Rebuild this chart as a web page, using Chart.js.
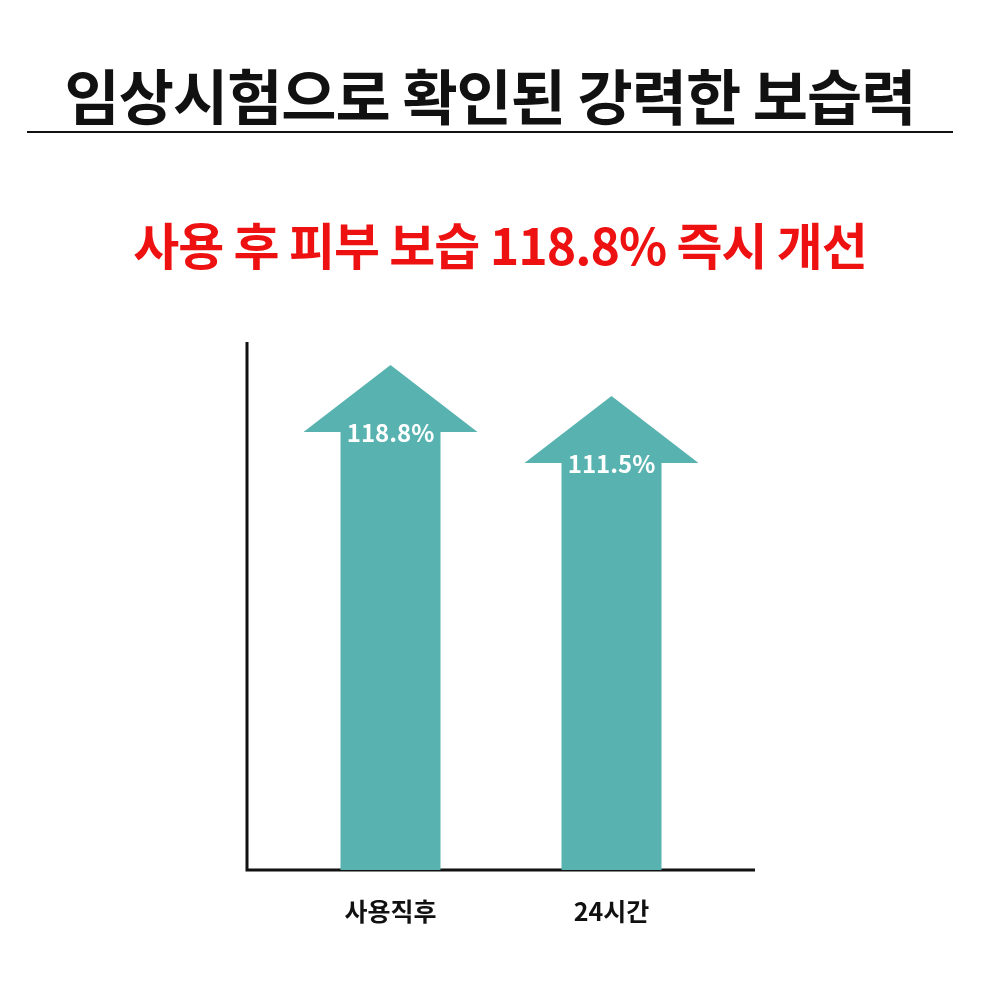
<!DOCTYPE html>
<html><head><meta charset="utf-8">
<script src="https://cdn.jsdelivr.net/npm/chart.js@4/dist/chart.umd.min.js"></script>
<style>
body{margin:0;background:#fff;}
#wrap{position:relative;width:1000px;height:1000px;font-family:"Noto Sans CJK KR",sans-serif;}
#t{position:absolute;left:0;width:980px;top:54px;line-height:80px;text-align:center;font-size:60px;font-weight:700;color:#111;letter-spacing:-1px}
#line{position:absolute;left:27px;width:926px;top:131px;height:2px;background:#111}
#s{position:absolute;left:0;width:1000px;top:208px;line-height:70px;text-align:center;font-size:50px;font-weight:700;color:#ee1111;letter-spacing:-1px}
canvas{position:absolute;left:0;top:0}
</style></head>
<body><div id="wrap">
<canvas id="c" width="1000" height="1000"></canvas>
<div id="t">임상시험으로 확인된 강력한 보습력</div>
<div id="line"></div>
<div id="s">사용 후 피부 보습 118.8% 즉시 개선</div>
</div>
<script>
const categories=["사용직후","24시간"];
const values=[118.8,111.5];
const valueLabels=["118.8%","111.5%"];
const arrowPlugin={id:'arrows',afterDatasetsDraw(chart){
  const ctx=chart.ctx, ca=chart.chartArea, meta=chart.getDatasetMeta(0), ys=chart.scales.y;
  ctx.save();
  ctx.strokeStyle='#111';ctx.lineWidth=3;
  ctx.beginPath();ctx.moveTo(ca.left-33,342);ctx.lineTo(ca.left-33,ca.bottom);ctx.lineTo(ca.right+33,ca.bottom);ctx.stroke();
  meta.data.forEach((b,i)=>{
    const x=b.x, tip=ys.getPixelForValue(values[i]), base=ys.getPixelForValue(0);
    const hw=50, hh=87, hl=67;
    ctx.fillStyle='#58b3b0';
    ctx.beginPath();
    ctx.moveTo(x-hw,base);ctx.lineTo(x-hw,tip+hl);ctx.lineTo(x-hh,tip+hl);ctx.lineTo(x,tip);
    ctx.lineTo(x+hh,tip+hl);ctx.lineTo(x+hw,tip+hl);ctx.lineTo(x+hw,base);ctx.closePath();ctx.fill();
    ctx.fillStyle='#fff';ctx.font='700 24px "Noto Sans CJK KR"';ctx.textAlign='center';ctx.textBaseline='middle';
    ctx.fillText(valueLabels[i],x,tip+hl+1);
  });
  ctx.restore();
}};
new Chart(document.getElementById('c'),{
  type:'bar',
  data:{labels:categories,datasets:[{data:values,backgroundColor:'rgba(0,0,0,0)',barPercentage:0.45,categoryPercentage:1}]},
  options:{responsive:false,animation:false,
    layout:{padding:{left:280,right:278,top:342,bottom:56}},
    plugins:{legend:{display:false},tooltip:{enabled:false}},
    scales:{
      y:{display:false,min:0,max:124.2},
      x:{grid:{display:false},border:{display:false},ticks:{color:'#111',padding:18,font:{family:'"Noto Sans CJK KR"',size:25,weight:'700'}}}
    }},
  plugins:[arrowPlugin]
});
</script></body></html>
